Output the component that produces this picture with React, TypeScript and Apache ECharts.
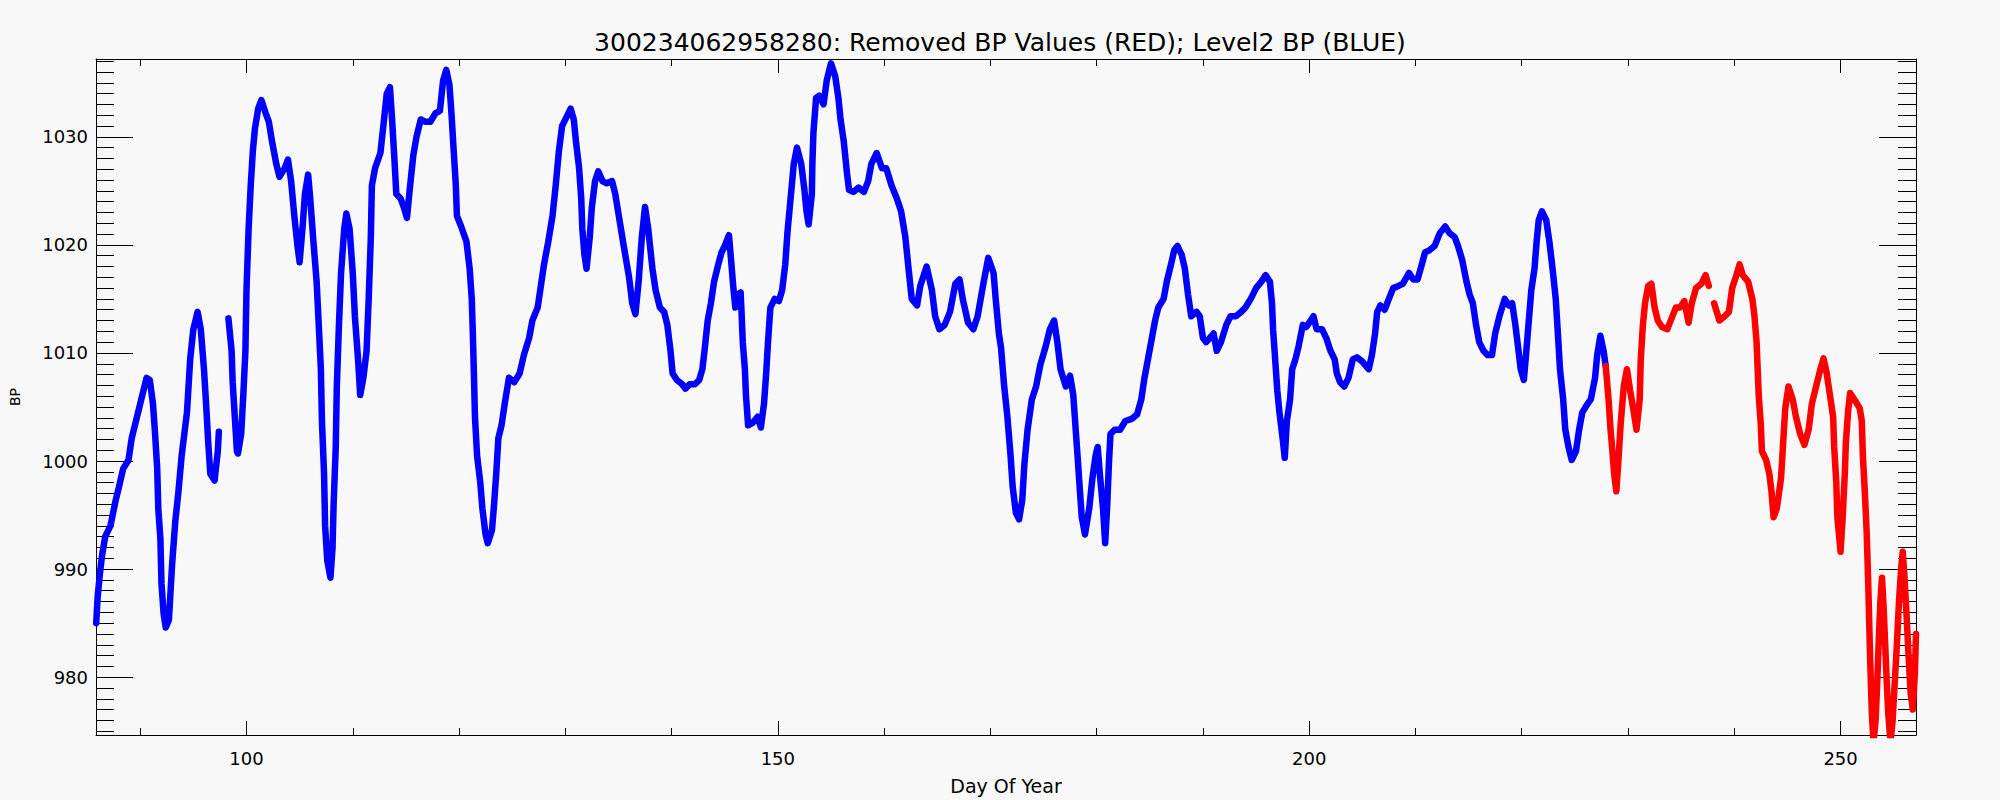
import React, { useEffect, useRef } from "react";
import * as echarts from "echarts";

const TITLE = "300234062958280: Removed BP Values (RED); Level2 BP (BLUE)";
const X_NAME = "Day Of Year";
const Y_NAME = "BP";

const X_MIN = 85.84;
const X_MAX = 257.1;
const Y_MIN = 974.65;
const Y_MAX = 1037.2;

const X_MAJOR = [100, 150, 200, 250];
const X_MINOR = [90, 110, 120, 130, 140, 160, 170, 180, 190, 210, 220, 230, 240];
const Y_MAJOR = [980, 990, 1000, 1010, 1020, 1030];
const Y_MINOR = [
  975, 976, 977, 978, 979, 981, 982, 983, 984, 985, 986, 987, 988, 989,
  991, 992, 993, 994, 995, 996, 997, 998, 999, 1001, 1002, 1003, 1004, 1005,
  1006, 1007, 1008, 1009, 1011, 1012, 1013, 1014, 1015, 1016, 1017, 1018, 1019,
  1021, 1022, 1023, 1024, 1025, 1026, 1027, 1028, 1029, 1031, 1032, 1033, 1034,
  1035, 1036, 1037,
];

// Level2 BP (blue): day of year, pressure (null = gap in record)
const BLUE_DAY = [
  85.86, 86.0, 86.2, 86.4, 86.7, 87.2, 87.7, 88.0, 88.4, 88.9, 89.2, 89.8, 90.3, 90.6, 90.9,
  91.2, 91.4, 91.6, 91.7, 91.9, 92.0, 92.2, 92.4, 92.7, 93.0, 93.3, 93.6, 93.9, 94.4, 94.7,
  95.0, 95.4, 95.7, 96.0, 96.2, 96.4, 96.6, 97.0, 97.3, 97.4, 97.8, 98.3, 98.6, 98.7, 98.9,
  99.1, 99.2, 99.5, 99.7, 99.9, 100.0, 100.2, 100.4, 100.6, 100.8, 101.1, 101.4, 101.8, 102.1,
  102.4, 102.8, 103.1, 103.6, 103.9, 104.2, 104.5, 104.8, 105.0, 105.3, 105.5, 105.8, 106.0,
  106.3, 106.6, 106.8, 107.0, 107.1, 107.3, 107.4, 107.6, 107.9, 108.1, 108.2, 108.4, 108.5,
  108.7, 108.9, 109.2, 109.4, 109.7, 110.0, 110.2, 110.5, 110.7, 111.0, 111.3, 111.5, 111.7,
  111.8, 112.1, 112.6, 112.9, 113.2, 113.5, 113.7, 113.9, 114.1, 114.5, 114.8, 115.1, 115.4,
  115.7, 116.0, 116.4, 116.8, 117.3, 117.8, 118.2, 118.5, 118.8, 119.1, 119.3, 119.5, 119.7,
  119.8, 120.2, 120.7, 121.0, 121.2, 121.3, 121.4, 121.5, 121.7, 122.0, 122.2, 122.5, 122.7,
  123.1, 123.3, 123.5, 123.7, 124.0, 124.3, 124.7, 125.2, 125.7, 126.1, 126.6, 126.9, 127.4,
  127.7, 128.0, 128.4, 128.8, 129.1, 129.4, 129.7, 130.1, 130.5, 130.8, 131.0, 131.3, 131.5,
  131.6, 131.8, 132.0, 132.3, 132.5, 132.8, 133.1, 133.5, 133.9, 134.4, 134.7, 135.1, 135.5,
  136.0, 136.3, 136.6, 136.9, 137.2, 137.5, 137.8, 138.2, 138.5, 138.9, 139.3, 139.6, 139.9,
  140.1, 140.5, 141.0, 141.3, 141.7, 142.2, 142.6, 142.9, 143.1, 143.4, 143.7, 144.0, 144.4,
  144.7, 145.0, 145.4, 145.6, 145.8, 146.0, 146.2, 146.5, 146.6, 146.7, 146.9, 147.0, 147.2,
  147.6, 148.1, 148.4, 148.7, 148.9, 149.1, 149.3, 149.7, 150.1, 150.4, 150.7, 150.9, 151.2,
  151.5, 151.8, 152.2, 152.5, 152.7, 152.9, 153.2, 153.25, 153.35, 153.6, 153.9, 154.3, 154.6,
  155.0, 155.4, 155.7, 155.9, 156.2, 156.5, 156.7, 157.1, 157.6, 158.1, 158.5, 158.8, 159.3,
  159.8, 160.2, 160.7, 161.2, 161.6, 162.0, 162.3, 162.6, 163.1, 163.4, 164.0, 164.5, 164.8,
  165.2, 165.7, 166.2, 166.7, 167.1, 167.4, 167.9, 168.4, 168.8, 169.3, 169.8, 170.3, 170.5,
  170.8, 171.0, 171.3, 171.6, 171.9, 172.1, 172.4, 172.7, 173.0, 173.2, 173.5, 173.9, 174.3,
  174.7, 175.2, 175.6, 176.0, 176.3, 176.6, 177.1, 177.5, 177.8, 178.0, 178.2, 178.4, 178.6,
  178.9, 179.3, 179.6, 179.9, 180.1, 180.3, 180.6, 180.8, 181.0, 181.15, 181.3, 181.7, 182.2,
  182.7, 183.3, 183.8, 184.2, 184.5, 184.9, 185.2, 185.5, 185.8, 186.3, 186.6, 187.0, 187.3,
  187.6, 188.0, 188.3, 188.6, 188.9, 189.4, 189.7, 190.0, 190.3, 191.0, 191.3, 191.7, 192.2,
  192.6, 193.1, 193.6, 194.0, 194.5, 195.0, 195.5, 195.9, 196.3, 196.5, 196.6, 196.8, 197.0,
  197.2, 197.5, 197.7, 197.9, 198.2, 198.4, 198.7, 199.0, 199.4, 199.7, 200.0, 200.4, 200.7,
  201.2, 201.6, 202.0, 202.4, 202.6, 202.9, 203.3, 203.7, 204.1, 204.5, 205.0, 205.6, 205.9,
  206.2, 206.4, 206.7, 207.1, 207.5, 207.9, 208.4, 208.8, 209.4, 209.8, 210.2, 210.6, 210.9,
  211.3, 211.8, 212.3, 212.8, 213.2, 213.7, 214.0, 214.4, 214.8, 215.1, 215.4, 215.7, 216.0,
  216.4, 216.8, 217.2, 217.5, 217.9, 218.4, 218.8, 219.1, 219.4, 219.7, 219.9, 220.2, 220.4,
  220.7, 220.9, 221.2, 221.4, 221.6, 221.9, 222.3, 222.6, 222.9, 223.2, 223.4, 223.6, 223.9,
  224.1, 224.4, 224.7, 225.1, 225.4, 225.7, 226.2, 226.5, 226.9, 227.1, 227.4, 227.7, 227.9,
];
const BLUE_BP = [
  985.0, 987.5, 989.5, 991.2, 993.0, 994.0, 996.4, 997.6, 999.3, 1000.1, 1002.1, 1004.5, 1006.5, 1007.7, 1007.5,
  1005.3, 1002.5, 999.3, 995.6, 992.8, 988.7, 985.9, 984.6, 985.3, 990.4, 994.4, 997.2, 1000.5, 1004.5, 1009.4,
  1012.2, 1013.8, 1012.2, 1008.5, 1005.3, 1001.7, 998.8, 998.2, 1000.9, 1002.7, null, 1013.2, 1010.2, 1007.3, 1004.1,
  1000.9, 1000.7, 1002.5, 1006.1, 1010.2, 1015.8, 1021.5, 1025.5, 1028.7, 1030.8, 1032.6, 1033.4, 1032.2, 1031.4,
  1029.6, 1027.5, 1026.3, 1027.1, 1027.9, 1025.9, 1022.7, 1019.9, 1018.4, 1021.9, 1024.7, 1026.5, 1024.3,
  1020.3, 1016.6, 1012.6, 1008.5, 1003.7, 998.8, 994.0, 990.8, 989.2, 992.0, 996.0, 1001.3, 1006.9,
  1012.6, 1017.4, 1021.5, 1022.9, 1021.5, 1017.4, 1013.4, 1009.4, 1006.1, 1007.7, 1010.2, 1015.0, 1020.7,
  1025.5, 1027.1, 1028.5, 1031.2, 1034.0, 1034.6, 1031.6, 1028.3, 1024.7, 1024.3, 1023.5, 1022.5, 1025.5,
  1028.3, 1030.0, 1031.6, 1031.4, 1031.4, 1032.2, 1032.4, 1035.2, 1036.2, 1034.8, 1032.0, 1028.7, 1025.5,
  1022.7, 1021.7, 1020.3, 1017.8, 1015.0, 1011.8, 1008.1, 1004.1, 1000.5, 998.0, 995.6, 993.2, 992.4,
  993.6, 996.0, 998.8, 1002.1, 1003.3, 1005.3, 1007.7, 1007.3, 1008.1, 1009.8, 1011.4, 1013.0, 1014.2,
  1016.2, 1018.2, 1020.3, 1022.7, 1025.5, 1028.7, 1031.0, 1031.8, 1032.6, 1031.6, 1029.6, 1027.1, 1024.3,
  1021.5, 1019.1, 1017.8, 1020.7, 1023.5, 1025.9, 1026.8, 1025.9, 1025.7, 1025.9, 1024.7, 1022.3, 1019.9,
  1017.0, 1014.6, 1013.6, 1016.6, 1020.7, 1023.5, 1021.5, 1017.8, 1015.8, 1014.2, 1013.8, 1012.6, 1010.2,
  1008.1, 1007.5, 1007.1, 1006.7, 1007.1, 1007.1, 1007.5, 1008.5, 1010.2, 1013.0, 1014.6, 1016.6, 1018.2,
  1019.3, 1019.9, 1020.9, 1018.6, 1016.2, 1014.2, 1015.4, 1015.6, 1013.4, 1011.0, 1008.5, 1006.1, 1003.3,
  1003.5, 1004.1, 1003.1, 1005.3, 1008.1, 1011.4, 1014.2, 1015.0, 1014.8, 1015.8, 1018.2, 1021.1, 1024.3,
  1027.5, 1029.0, 1027.5, 1025.1, 1023.1, 1021.9, 1024.7, 1027.5, 1030.4, 1033.6, 1033.8, 1033.0, 1035.2,
  1036.8, 1035.6, 1033.6, 1031.6, 1029.6, 1026.7, 1025.1, 1024.9, 1025.3, 1024.9, 1025.9, 1027.5, 1028.5,
  1027.1, 1027.1, 1025.5, 1024.3, 1023.1, 1020.7, 1017.8, 1015.0, 1014.4, 1016.2, 1018.0, 1015.8, 1013.4,
  1012.2, 1012.6, 1013.8, 1016.4, 1016.8, 1015.0, 1012.8, 1012.2, 1013.4, 1016.2, 1018.8, 1017.4, 1015.0,
  1011.8, 1010.5, 1006.9, 1004.1, 1000.5, 997.6, 995.2, 994.6, 996.4, 999.7, 1002.9, 1005.7, 1006.9,
  1008.9, 1010.6, 1012.2, 1013.0, 1011.0, 1008.5, 1006.9, 1007.9, 1006.1, 1003.3, 1000.5, 997.6, 994.8,
  993.2, 995.6, 998.4, 1000.5, 1001.3, 998.8, 995.6, 992.4, 996.0, 999.7, 1002.5, 1002.9, 1002.9,
  1003.7, 1003.9, 1004.3, 1005.7, 1007.7, 1009.8, 1011.4, 1013.0, 1014.2, 1015.0, 1016.6, 1018.2, 1019.5,
  1019.9, 1019.1, 1017.8, 1015.4, 1013.4, 1013.8, 1013.4, 1011.4, 1011.0, 1011.8, 1010.2, 1011.0, 1012.6,
  1013.4, 1013.4, 1013.8, 1014.2, 1015.0, 1016.0, 1016.6, 1017.2, 1016.6, 1014.6, 1012.2, 1009.4, 1006.5,
  1004.5, 1002.1, 1000.3, 1003.7, 1005.7, 1008.5, 1009.4, 1010.6, 1012.6, 1012.4, 1012.8, 1013.4, 1012.2,
  1012.2, 1011.4, 1010.2, 1009.4, 1008.1, 1007.3, 1006.9, 1007.7, 1009.4, 1009.6, 1009.2, 1008.5, 1009.8,
  1011.8, 1013.8, 1014.4, 1014.0, 1015.0, 1016.0, 1016.2, 1016.4, 1017.4, 1016.8, 1016.8, 1018.2, 1019.3,
  1019.5, 1019.9, 1021.1, 1021.7, 1021.1, 1020.7, 1019.9, 1018.6, 1016.6, 1015.4, 1014.6, 1012.6, 1011.0,
  1010.2, 1009.8, 1009.8, 1011.8, 1013.4, 1015.0, 1014.4, 1014.6, 1012.6, 1010.2, 1008.5, 1007.5, 1009.8,
  1013.4, 1015.8, 1017.8, 1020.3, 1022.3, 1023.1, 1022.3, 1020.3, 1017.8, 1015.0, 1011.8, 1008.5, 1005.7,
  1002.9, 1001.3, 1000.1, 1000.9, 1002.9, 1004.5, 1005.3, 1005.7, 1007.7, 1009.8, 1011.6, 1010.2, 1008.8,
];

// Removed BP values (red)
const RED_DAY = [
  227.9, 228.0, 228.2, 228.35, 228.5, 228.7, 228.9, 229.1, 229.3, 229.6, 229.9, 230.2, 230.5, 230.8,
  231.1, 231.2, 231.4, 231.6, 231.9, 232.2, 232.5, 232.8, 233.2, 233.7, 234.1, 234.5, 234.9, 235.3,
  235.7, 236.0, 236.4, 236.9, 237.3, 237.6, 237.85, 238.1, 238.6, 239.1, 239.5, 239.8, 240.2, 240.5,
  240.8, 241.3, 241.7, 241.9, 242.1, 242.2, 242.3, 242.5, 242.6, 243.0, 243.3, 243.5, 243.7, 244.0,
  244.4, 244.6, 244.8, 245.1, 245.5, 245.8, 246.2, 246.6, 247.0, 247.3, 247.7, 248.1, 248.4, 248.7,
  249.0, 249.3, 249.4, 249.6, 249.7, 250.0, 250.2, 250.4, 250.5, 250.7, 250.9, 251.3, 251.8, 252.0,
  252.1, 252.3, 252.45, 252.55, 252.65, 252.75, 252.85, 252.95, 253.1, 253.3, 253.45, 253.6, 253.75,
  253.9, 254.05, 254.2, 254.35, 254.5, 254.7, 254.9, 255.1, 255.3, 255.5, 255.7, 255.85, 256.0,
  256.2, 256.4, 256.6, 256.8, 257.0, 257.1,
];
const RED_BP = [
  1008.8, 1007.7, 1005.3, 1003.0, 1001.3, 998.8, 997.2, 1000.1, 1003.3, 1006.9, 1008.5, 1006.5, 1004.8, 1002.9,
  1005.7, 1009.4, 1012.6, 1014.6, 1016.2, 1016.4, 1014.2, 1013.0, 1012.4, 1012.2, 1013.2, 1014.2, 1014.2, 1014.8,
  1012.8, 1014.6, 1016.0, 1016.4, 1017.2, 1016.2, null, 1014.6, 1013.0, 1013.4, 1013.8, 1016.0, 1017.2, 1018.2,
  1017.2, 1016.6, 1015.0, 1013.4, 1011.0, 1008.5, 1006.1, 1003.3, 1000.9, 1000.1, 998.8, 997.2, 994.8, 995.6,
  998.4, 1001.7, 1004.9, 1006.9, 1005.7, 1004.1, 1002.5, 1001.5, 1002.9, 1005.3, 1006.9, 1008.5, 1009.5, 1008.1,
  1006.1, 1004.1, 1001.3, 998.0, 994.8, 991.6, 994.8, 998.8, 1001.7, 1004.5, 1006.3, 1005.7, 1004.9, 1003.7,
  1000.5, 996.8, 993.6, 990.5, 987.0, 983.0, 979.5, 976.5, 974.0, 976.0, 979.5, 983.5, 987.0,
  989.2, 986.5, 983.0, 979.5, 976.5, 974.0, 976.0, 979.5, 983.0, 987.0, 990.0, 991.6, 989.5,
  986.0, 982.0, 978.5, 977.0, 980.5, 984.0,
];

const FONT = "DejaVu Sans";

function pairs(days: number[], vals: (number | null)[]) {
  return days.map((d, i) => [d, vals[i] === null ? "-" : vals[i]]);
}

export default function App() {
  const ref = useRef<HTMLDivElement>(null);

  useEffect(() => {
    if (!ref.current) return;
    const chart = echarts.init(ref.current, undefined, { renderer: "svg" });
    const line = { color: "#000", width: 1 };
    const label = { fontFamily: FONT, fontSize: 18, color: "#000", formatter: (v: number) => String(v) };

    const xBase = (position: string, major: boolean, labels: boolean) => ({
      type: "value",
      position,
      min: X_MIN,
      max: X_MAX,
      splitLine: { show: false },
      axisLine: { show: major, lineStyle: line },
      axisTick: {
        show: true,
        inside: true,
        length: major ? 14 : 7,
        lineStyle: line,
        customValues: major ? X_MAJOR : X_MINOR,
      },
      axisLabel: labels
        ? { show: true, ...label, margin: 14, customValues: X_MAJOR }
        : { show: false },
    });
    const yBase = (position: string, major: boolean, labels: boolean) => ({
      type: "value",
      position,
      min: Y_MIN,
      max: Y_MAX,
      splitLine: { show: false },
      axisLine: { show: major, lineStyle: line },
      axisTick: {
        show: true,
        inside: true,
        length: major ? 37 : 18,
        lineStyle: line,
        customValues: major ? Y_MAJOR : Y_MINOR,
      },
      axisLabel: labels
        ? { show: true, ...label, margin: 8, customValues: Y_MAJOR }
        : { show: false },
    });

    const xAxes: any[] = [
      xBase("bottom", true, true),
      xBase("bottom", false, false),
      xBase("top", true, false),
      xBase("top", false, false),
    ];
    xAxes[0].name = X_NAME;
    xAxes[0].nameLocation = "middle";
    xAxes[0].nameGap = 41;
    xAxes[0].nameTextStyle = { fontFamily: FONT, fontSize: 19, color: "#000" };

    const yAxes: any[] = [
      yBase("left", true, true),
      yBase("left", false, false),
      yBase("right", true, false),
      yBase("right", false, false),
    ];
    yAxes[0].name = Y_NAME;
    yAxes[0].nameLocation = "middle";
    yAxes[0].nameGap = 74;
    yAxes[0].nameTextStyle = { fontFamily: FONT, fontSize: 14, color: "#000" };

    chart.setOption({
      animation: false,
      backgroundColor: "#f8f8f8",
      title: {
        text: TITLE,
        left: "center",
        top: 25,
        textStyle: { fontFamily: FONT, fontSize: 25, fontWeight: "normal", color: "#000" },
      },
      grid: { left: 84, top: 59, width: 1832, height: 680, containLabel: false },
      xAxis: xAxes,
      yAxis: yAxes,
      series: [
        {
          type: "line",
          name: "Level2 BP",
          xAxisIndex: 0,
          yAxisIndex: 0,
          data: pairs(BLUE_DAY, BLUE_BP),
          showSymbol: false,
          symbol: "circle",
          connectNulls: false,
          lineStyle: { color: "#0000ff", width: 6.5, cap: "round", join: "round" },
          itemStyle: { color: "#0000ff" },
          clip: true,
        },
        {
          type: "line",
          name: "Removed BP",
          xAxisIndex: 0,
          yAxisIndex: 0,
          data: pairs(RED_DAY, RED_BP),
          showSymbol: false,
          symbol: "circle",
          connectNulls: false,
          lineStyle: { color: "#ff0000", width: 6.5, cap: "round", join: "round" },
          itemStyle: { color: "#ff0000" },
          clip: true,
        },
      ],
    });
    return () => chart.dispose();
  }, []);

  return (
    <div
      ref={ref}
      style={{ position: "fixed", left: 0, top: 0, width: 2000, height: 800, background: "#f8f8f8" }}
    />
  );
}
